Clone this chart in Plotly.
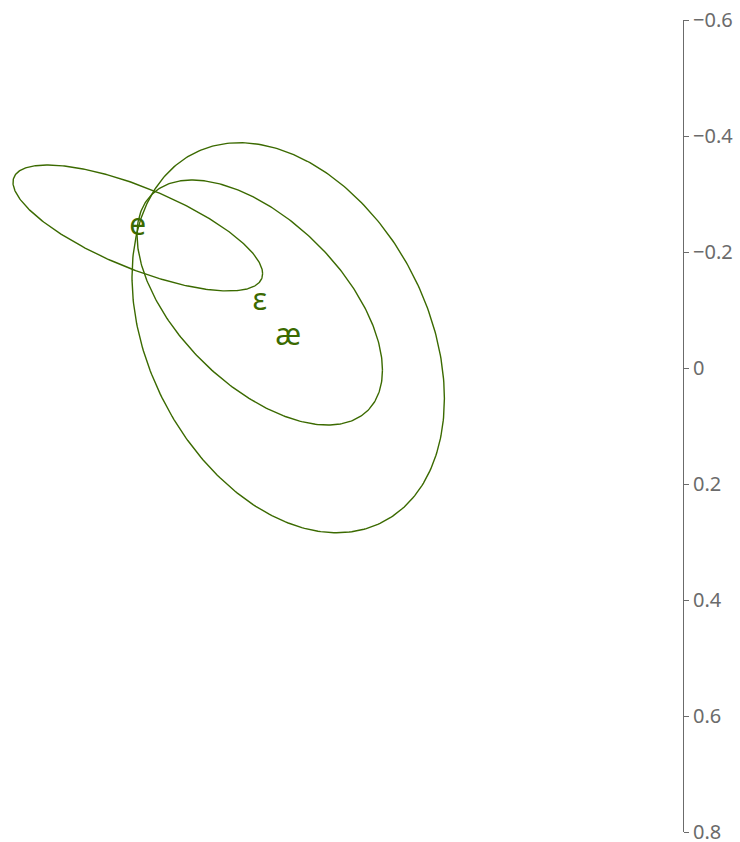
import numpy as np
import plotly.graph_objects as go

# Vowel categories with their mean position (normalised units)
vowels = ["e", "ɛ", "æ"]
center_x = [-0.3624, -0.1522, -0.1031]
center_y = [-0.2414, -0.1129, -0.0522]

# Ellipse half-extents along each axis and the x/y correlation
half_x = [0.2152, 0.2116, 0.2693]
half_y = [0.1086, 0.2112, 0.3362]
corr = [0.725, 0.552, 0.312]

y_ticks = [-0.6, -0.4, -0.2, 0, 0.2, 0.4, 0.6, 0.8]
y_tick_text = ["−0.6", "−0.4", "−0.2", "0", "0.2", "0.4", "0.6", "0.8"]

GREEN = "#3b6a00"
AXIS = "#6b6b6b"

fig = go.Figure()

t = np.linspace(0, 2 * np.pi, 361)
for v, cx, cy, wx, wy, r in zip(vowels, center_x, center_y, half_x, half_y, corr):
    ex = cx + wx * np.cos(t)
    ey = cy + wy * (r * np.cos(t) + np.sqrt(1 - r * r) * np.sin(t))
    fig.add_trace(go.Scatter(
        x=ex, y=ey, mode="lines",
        line=dict(color=GREEN, width=1.4),
        hoverinfo="skip", showlegend=False,
    ))

fig.add_trace(go.Scatter(
    x=center_x, y=center_y, mode="text", text=vowels,
    textposition="middle center",
    textfont=dict(family="Noto Sans", size=30, color=GREEN),
    showlegend=False,
))

fig.update_layout(
    width=740, height=842,
    margin=dict(l=0, r=57, t=20, b=10, autoexpand=False),
    paper_bgcolor="white", plot_bgcolor="white",
    xaxis=dict(range=[-0.6, -0.6 + 683 / 580], visible=False, showgrid=False,
               zeroline=False, automargin=False),
    yaxis=dict(
        range=[0.8, -0.6], side="right", automargin=False,
        tickvals=y_ticks, ticktext=y_tick_text,
        showline=True, linecolor=AXIS, linewidth=1,
        ticks="outside", ticklen=5, tickcolor=AXIS,
        showgrid=False, zeroline=False,
        ticklabeloverflow="allow",
        tickfont=dict(family="Noto Sans", size=20, color=AXIS),
    ),
)

fig.write_html("out.html")
